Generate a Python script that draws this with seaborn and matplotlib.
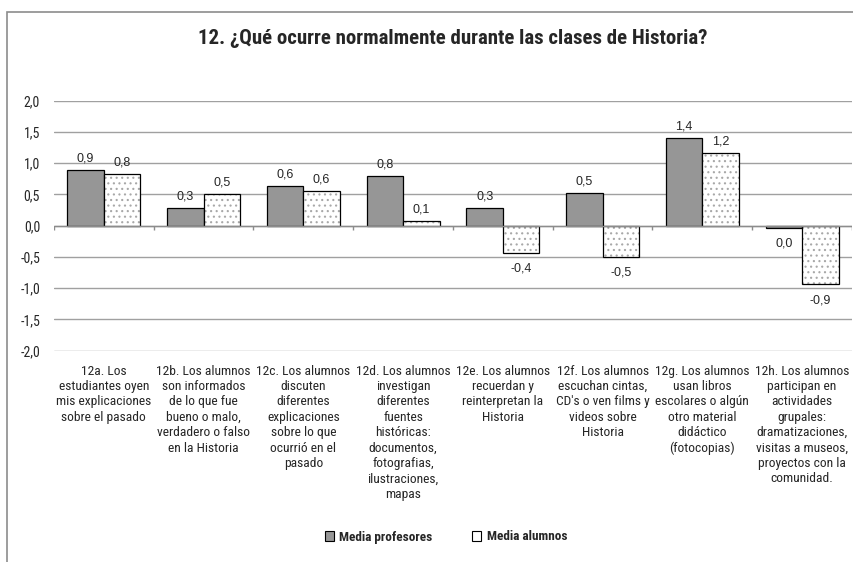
import numpy as np
import pandas as pd
import seaborn as sns
import matplotlib.pyplot as plt
from matplotlib.patches import Rectangle
from matplotlib import font_manager
from matplotlib.colors import to_rgba

categorias = [
    "12a. Los\nestudiantes oyen\nmis explicaciones\nsobre el pasado",
    "12b. Los alumnos\nson informados\nde lo que fue\nbueno o malo,\nverdadero o falso\nen la Historia",
    "12c. Los alumnos\ndiscuten\ndiferentes\nexplicaciones\nsobre lo que\nocurrió en el\npasado",
    "12d. Los alumnos\ninvestigan\ndiferentes\nfuentes\nhistóricas:\ndocumentos,\nfotografias,\nilustraciones,\nmapas",
    "12e. Los alumnos\nrecuerdan y\nreinterpretan la\nHistoria",
    "12f. Los alumnos\nescuchan cintas,\nCD's o ven films y\nvideos sobre\nHistoria",
    "12g. Los alumnos\nusan libros\nescolares o algún\notro material\ndidáctico\n(fotocopias)",
    "12h. Los alumnos\nparticipan en\nactividades\ngrupales:\ndramatizaciones,\nvisitas a museos,\nproyectos con la\ncomunidad.",
]
series = ["Media profesores", "Media alumnos"]
media_profesores = [0.89, 0.29, 0.64, 0.79, 0.28, 0.53, 1.41, -0.04]
media_alumnos = [0.82, 0.51, 0.55, 0.08, -0.44, -0.50, 1.16, -0.94]
yticks = [-2.0, -1.5, -1.0, -0.5, 0.0, 0.5, 1.0, 1.5, 2.0]

installed = {f.name for f in font_manager.fontManager.ttflist}
narrow = [f for f in ["Roboto Condensed", "Archivo Narrow", "PT Sans Narrow"] if f in installed]
fam = narrow[:1] + ["Liberation Sans", "DejaVu Sans"]

sns.set_theme(style="white")
plt.rcParams["font.family"] = fam
plt.rcParams["hatch.linewidth"] = 0.8

df = pd.DataFrame({
    "cat": categorias * 2,
    "valor": media_profesores + media_alumnos,
    "serie": [series[0]] * len(categorias) + [series[1]] * len(categorias),
})

W, H = 854, 562
fig = plt.figure(figsize=(W / 100, H / 100), dpi=100)
ax = fig.add_axes([54 / W, 1 - 350.7 / H, (852 - 54) / W, 250 / H])

sns.barplot(data=df, x="cat", y="valor", hue="serie", hue_order=series,
            palette=["#969696", "white"], edgecolor="black", linewidth=0.9,
            width=0.73, saturation=1, ax=ax, legend=False)

# puntos grises dentro de las barras de alumnos
for p in ax.containers[1]:
    p.set_hatch("...")
    if hasattr(p, "set_hatchcolor"):
        p.set_hatchcolor("#a8a8a8")
    else:
        p._hatch_color = to_rgba("#a8a8a8")

ax.set_ylim(-2, 2)
ax.set_xlim(-0.5, len(categorias) - 0.5)
ax.set_yticks(yticks)
ax.set_yticklabels([f"{v:.1f}".replace(".", ",") for v in yticks], fontsize=10)
ax.yaxis.grid(True, color="#a0a0a0", linewidth=1.0)
ax.set_axisbelow(True)
for s in ax.spines.values():
    s.set_visible(False)
ax.axhline(0, color="#8c8c8c", linewidth=1.0, zorder=1.5)
ax.vlines(np.arange(-0.5, len(categorias), 1), -0.07, 0, color="#8c8c8c", linewidth=1.0)
ax.tick_params(axis="y", length=0, pad=10)
ax.tick_params(axis="x", length=0, pad=10)
ax.set_xticks(range(len(categorias)))
ax.set_xticklabels(categorias, fontsize=9.7, linespacing=1.24, va="top", ha="center")
ax.set_xlabel("")
ax.set_ylabel("")

# etiquetas de datos
for cont in ax.containers:
    for p in cont:
        v = p.get_height()
        txt = f"{v:.1f}".replace(".", ",")
        if txt == "-0,0":
            txt = "0,0"
        x = p.get_x() + p.get_width() / 2
        if v >= 0:
            ax.annotate(txt, (x, v), xytext=(0, 4), textcoords="offset points",
                        ha="center", va="bottom", fontsize=9, family="Liberation Sans")
        else:
            ax.annotate(txt, (x, v), xytext=(0, -7), textcoords="offset points",
                        ha="center", va="top", fontsize=9, family="Liberation Sans")

fig.text(453 / W, 1 - 38 / H, "12. ¿Qué ocurre normalmente durante las clases de Historia?",
         ha="center", va="center", fontsize=15, fontweight="bold")

# leyenda
handles = [Rectangle((0, 0), 1, 1, facecolor="#969696", edgecolor="black", linewidth=0.8),
           Rectangle((0, 0), 1, 1, facecolor="white", edgecolor="black", linewidth=0.8)]
fig.legend(handles, series, loc="center", bbox_to_anchor=(446 / W, 1 - 537 / H), ncol=2,
           frameon=False, prop={"weight": "bold", "size": 9.5}, handlelength=0.7,
           handleheight=0.7, handletextpad=0.4, columnspacing=3.0)

fig.patches.append(Rectangle((7 / W, -0.1), 2, 1 - 12 / H + 0.1, transform=fig.transFigure,
                             fill=False, edgecolor="#8c8c8c", linewidth=1.2))

fig.savefig("out.png", dpi=100)
